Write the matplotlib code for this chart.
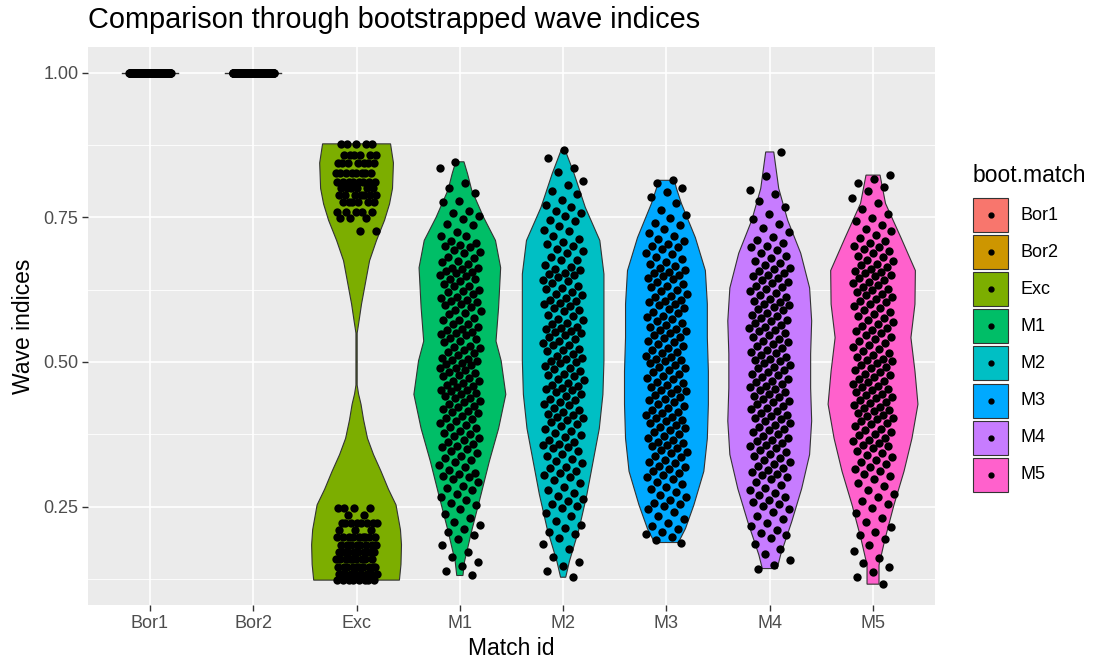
import numpy as np
import matplotlib.pyplot as plt
from matplotlib.patches import Rectangle
from matplotlib.lines import Line2D

plt.rcParams['font.family'] = ['Liberation Sans', 'DejaVu Sans']

groups = ['Bor1', 'Bor2', 'Exc', 'M1', 'M2', 'M3', 'M4', 'M5']
colors = ['#F8766D', '#CD9600', '#7CAE00', '#00BE67', '#00BFC4', '#00A9FF', '#C77CFF', '#FF61CC']
y_ticks = [0.25, 0.50, 0.75, 1.00]
y_ticklabels = ['0.25', '0.50', '0.75', '1.00']

# bootstrapped indices (Bor1/Bor2 all hit 1, Exc comes in discrete levels)
bor1_levels = [1.0]
bor1_counts = [200]
bor2_levels = [1.0]
bor2_counts = [200]
exc_levels = [0.877, 0.858, 0.844, 0.826, 0.811, 0.800, 0.788, 0.776, 0.759, 0.748, 0.727,
              0.247, 0.235, 0.222, 0.210, 0.198, 0.184, 0.172, 0.160, 0.146, 0.134, 0.123]
exc_counts = [5, 6, 7, 8, 8, 6, 7, 6, 5, 3, 2,
              4, 2, 8, 3, 9, 8, 10, 9, 10, 9, 8]

m1_vals = [0.846, 0.835, 0.809, 0.801, 0.792, 0.779, 0.776, 0.761, 0.758, 0.752,
           0.747, 0.738, 0.737, 0.724, 0.718, 0.717, 0.709, 0.705, 0.702, 0.700,
           0.699, 0.693, 0.690, 0.688, 0.681, 0.680, 0.674, 0.672, 0.669, 0.663, 0.662, 0.660,
           0.657, 0.655, 0.653, 0.651, 0.649, 0.644, 0.643, 0.640, 0.634, 0.632, 0.631, 0.625,
           0.622, 0.621, 0.617, 0.612, 0.611, 0.607, 0.606, 0.604, 0.600, 0.598, 0.595, 0.589,
           0.588, 0.584, 0.583, 0.576, 0.573, 0.572, 0.566, 0.565, 0.561, 0.557, 0.556, 0.552,
           0.550, 0.549, 0.546, 0.541, 0.540, 0.537, 0.534, 0.528, 0.526, 0.525, 0.520, 0.517,
           0.516, 0.512, 0.507, 0.505, 0.504, 0.501, 0.499, 0.497, 0.494, 0.490, 0.489, 0.486,
           0.482, 0.481, 0.478, 0.475, 0.473, 0.468, 0.467, 0.464, 0.460, 0.459, 0.457, 0.452,
           0.451, 0.449, 0.446, 0.444, 0.441, 0.438, 0.437, 0.433, 0.430, 0.428, 0.424, 0.422,
           0.419, 0.415, 0.413, 0.411, 0.406, 0.404, 0.401, 0.398, 0.395, 0.391, 0.388, 0.386,
           0.381, 0.378, 0.376, 0.372, 0.369, 0.365, 0.362, 0.358, 0.355, 0.353, 0.350, 0.347,
           0.343, 0.338, 0.334, 0.331, 0.327, 0.322, 0.318, 0.314, 0.309, 0.306, 0.303, 0.301,
           0.297, 0.292, 0.286, 0.283, 0.278, 0.271, 0.266, 0.261, 0.257, 0.252, 0.246, 0.238,
           0.231, 0.224, 0.218, 0.211, 0.206, 0.201, 0.194, 0.183, 0.172, 0.163, 0.155, 0.148,
           0.139, 0.131]
m2_vals = [0.866, 0.852, 0.836, 0.829, 0.813, 0.806, 0.795, 0.791, 0.780, 0.772, 0.768, 0.761,
           0.757, 0.753, 0.746, 0.744, 0.735, 0.728, 0.726, 0.717, 0.712, 0.708, 0.704, 0.700,
           0.696, 0.692, 0.689, 0.681, 0.677, 0.676, 0.668, 0.664, 0.661, 0.659, 0.654, 0.652,
           0.650, 0.647, 0.642, 0.640, 0.637, 0.632, 0.628, 0.626, 0.621, 0.618, 0.616, 0.610,
           0.608, 0.605, 0.602, 0.600, 0.597, 0.593, 0.590, 0.588, 0.581, 0.579, 0.574, 0.573,
           0.568, 0.566, 0.560, 0.558, 0.557, 0.554, 0.552, 0.550, 0.546, 0.544, 0.539, 0.537,
           0.533, 0.530, 0.529, 0.523, 0.520, 0.519, 0.513, 0.511, 0.507, 0.506, 0.502, 0.500,
           0.498, 0.493, 0.490, 0.488, 0.485, 0.479, 0.477, 0.476, 0.470, 0.469, 0.463, 0.461,
           0.458, 0.455, 0.454, 0.451, 0.448, 0.445, 0.442, 0.436, 0.435, 0.431, 0.427, 0.425,
           0.420, 0.417, 0.414, 0.410, 0.409, 0.405, 0.403, 0.400, 0.397, 0.392, 0.389, 0.384,
           0.381, 0.378, 0.373, 0.370, 0.366, 0.361, 0.358, 0.356, 0.353, 0.351, 0.346, 0.341,
           0.337, 0.332, 0.329, 0.325, 0.319, 0.316, 0.311, 0.308, 0.304, 0.301, 0.296, 0.291,
           0.284, 0.279, 0.274, 0.268, 0.263, 0.259, 0.255, 0.251, 0.247, 0.239, 0.233, 0.226,
           0.219, 0.213, 0.207, 0.202, 0.196, 0.185, 0.176, 0.163, 0.154, 0.147, 0.138, 0.128]
m3_vals = [0.814, 0.809, 0.801, 0.793, 0.786, 0.774, 0.763, 0.754, 0.748, 0.741, 0.737, 0.729,
           0.723, 0.718, 0.713, 0.709, 0.704, 0.701, 0.698, 0.695, 0.689, 0.686, 0.682, 0.678,
           0.673, 0.670, 0.666, 0.662, 0.659, 0.656, 0.654, 0.651, 0.649, 0.645, 0.643, 0.638,
           0.635, 0.631, 0.629, 0.624, 0.622, 0.617, 0.614, 0.612, 0.608, 0.606, 0.603, 0.601,
           0.598, 0.594, 0.592, 0.587, 0.585, 0.580, 0.577, 0.575, 0.571, 0.567, 0.564, 0.560,
           0.557, 0.555, 0.553, 0.550, 0.547, 0.543, 0.542, 0.537, 0.534, 0.531, 0.527, 0.524,
           0.521, 0.517, 0.515, 0.511, 0.508, 0.505, 0.503, 0.501, 0.499, 0.495, 0.492, 0.489,
           0.486, 0.483, 0.479, 0.476, 0.472, 0.470, 0.466, 0.463, 0.460, 0.457, 0.454, 0.451,
           0.449, 0.446, 0.443, 0.440, 0.436, 0.434, 0.430, 0.427, 0.424, 0.421, 0.417, 0.414,
           0.411, 0.408, 0.405, 0.403, 0.400, 0.398, 0.395, 0.391, 0.388, 0.386, 0.382, 0.379,
           0.376, 0.372, 0.369, 0.366, 0.362, 0.360, 0.357, 0.354, 0.351, 0.348, 0.345, 0.342,
           0.338, 0.335, 0.331, 0.328, 0.325, 0.321, 0.318, 0.315, 0.312, 0.308, 0.305, 0.302,
           0.298, 0.293, 0.289, 0.284, 0.280, 0.276, 0.270, 0.266, 0.261, 0.257, 0.254, 0.251,
           0.246, 0.240, 0.234, 0.228, 0.222, 0.216, 0.211, 0.206, 0.202, 0.197, 0.192, 0.188]
m4_vals = [0.863, 0.821, 0.798, 0.791, 0.779, 0.768, 0.756, 0.747, 0.738, 0.731, 0.724, 0.716,
           0.711, 0.705, 0.701, 0.698, 0.693, 0.688, 0.684, 0.679, 0.675, 0.671, 0.668, 0.663,
           0.660, 0.657, 0.654, 0.651, 0.648, 0.645, 0.641, 0.639, 0.636, 0.632, 0.629, 0.626,
           0.622, 0.619, 0.616, 0.612, 0.609, 0.606, 0.603, 0.601, 0.598, 0.595, 0.592, 0.589,
           0.585, 0.582, 0.579, 0.576, 0.573, 0.570, 0.567, 0.564, 0.561, 0.558, 0.555, 0.553,
           0.550, 0.547, 0.544, 0.540, 0.537, 0.534, 0.531, 0.527, 0.524, 0.521, 0.518, 0.515,
           0.512, 0.509, 0.506, 0.503, 0.501, 0.498, 0.495, 0.492, 0.489, 0.486, 0.483, 0.480,
           0.477, 0.474, 0.471, 0.468, 0.465, 0.462, 0.459, 0.456, 0.453, 0.451, 0.448, 0.445,
           0.442, 0.439, 0.436, 0.433, 0.430, 0.427, 0.424, 0.421, 0.418, 0.415, 0.412, 0.409,
           0.406, 0.403, 0.401, 0.398, 0.395, 0.391, 0.388, 0.385, 0.382, 0.379, 0.376, 0.372,
           0.369, 0.366, 0.363, 0.360, 0.357, 0.354, 0.351, 0.348, 0.344, 0.341, 0.337, 0.334,
           0.330, 0.327, 0.323, 0.320, 0.317, 0.313, 0.310, 0.307, 0.304, 0.301, 0.297, 0.292,
           0.288, 0.283, 0.279, 0.274, 0.270, 0.266, 0.262, 0.258, 0.254, 0.251, 0.246, 0.240,
           0.234, 0.228, 0.222, 0.216, 0.210, 0.205, 0.201, 0.195, 0.186, 0.177, 0.168, 0.158,
           0.149, 0.143]
m5_vals = [0.823, 0.817, 0.809, 0.802, 0.795, 0.783, 0.774, 0.765, 0.756, 0.748, 0.743, 0.736,
           0.730, 0.726, 0.719, 0.714, 0.709, 0.705, 0.701, 0.698, 0.695, 0.691, 0.688, 0.684,
           0.681, 0.677, 0.674, 0.670, 0.667, 0.664, 0.661, 0.658, 0.655, 0.653, 0.651, 0.648,
           0.645, 0.642, 0.639, 0.636, 0.633, 0.630, 0.627, 0.624, 0.621, 0.618, 0.615, 0.612,
           0.609, 0.606, 0.603, 0.601, 0.597, 0.593, 0.590, 0.586, 0.583, 0.579, 0.576, 0.572,
           0.569, 0.565, 0.562, 0.559, 0.556, 0.553, 0.550, 0.546, 0.543, 0.539, 0.536, 0.533,
           0.529, 0.526, 0.522, 0.519, 0.516, 0.512, 0.509, 0.506, 0.503, 0.501, 0.498, 0.495,
           0.492, 0.489, 0.486, 0.483, 0.480, 0.477, 0.474, 0.471, 0.468, 0.465, 0.462, 0.459,
           0.456, 0.453, 0.451, 0.448, 0.445, 0.443, 0.440, 0.437, 0.434, 0.431, 0.429, 0.426,
           0.423, 0.420, 0.417, 0.415, 0.412, 0.409, 0.406, 0.403, 0.401, 0.398, 0.395, 0.392,
           0.389, 0.385, 0.382, 0.379, 0.376, 0.373, 0.369, 0.366, 0.363, 0.360, 0.357, 0.354,
           0.351, 0.347, 0.343, 0.339, 0.335, 0.331, 0.327, 0.323, 0.319, 0.315, 0.311, 0.307,
           0.303, 0.297, 0.291, 0.285, 0.278, 0.272, 0.266, 0.260, 0.254, 0.247, 0.239, 0.231,
           0.223, 0.215, 0.207, 0.201, 0.194, 0.184, 0.173, 0.162, 0.152, 0.146, 0.137, 0.128,
           0.116]

# violin outlines: index level and half width (category units)
exc_shape_y = [0.123, 0.150, 0.184, 0.210, 0.235, 0.253, 0.280, 0.311, 0.340, 0.368, 0.400,
               0.427, 0.445, 0.460, 0.550, 0.571, 0.600, 0.628, 0.675, 0.710, 0.745, 0.773,
               0.800, 0.844, 0.877]
exc_shape_w = [0.415, 0.430, 0.435, 0.425, 0.400, 0.382, 0.309, 0.237, 0.164, 0.106, 0.068,
               0.043, 0.019, 0.006, 0.006, 0.024, 0.048, 0.077, 0.126, 0.193, 0.271, 0.319,
               0.348, 0.357, 0.329]
m1_shape_y = [0.131, 0.155, 0.212, 0.271, 0.328, 0.385, 0.444, 0.502, 0.536, 0.594, 0.663,
              0.710, 0.750, 0.797, 0.825, 0.846]
m1_shape_w = [0.030, 0.045, 0.120, 0.205, 0.285, 0.375, 0.445, 0.400, 0.350, 0.375, 0.395,
              0.345, 0.230, 0.115, 0.075, 0.040]
m2_shape_y = [0.128, 0.155, 0.212, 0.271, 0.328, 0.385, 0.444, 0.502, 0.580, 0.652, 0.710,
              0.767, 0.826, 0.866]
m2_shape_w = [0.025, 0.060, 0.155, 0.230, 0.290, 0.350, 0.385, 0.395, 0.395, 0.395, 0.355,
              0.215, 0.105, 0.020]
m3_shape_y = [0.188, 0.212, 0.253, 0.311, 0.368, 0.427, 0.484, 0.542, 0.600, 0.658, 0.715,
              0.774, 0.800, 0.814]
m3_shape_w = [0.116, 0.184, 0.266, 0.362, 0.396, 0.406, 0.406, 0.396, 0.396, 0.377, 0.280,
              0.145, 0.097, 0.077]
m4_shape_y = [0.143, 0.167, 0.224, 0.281, 0.340, 0.398, 0.455, 0.514, 0.571, 0.628, 0.688,
              0.745, 0.800, 0.863]
m4_shape_w = [0.072, 0.106, 0.213, 0.309, 0.386, 0.406, 0.396, 0.396, 0.406, 0.386, 0.300,
              0.174, 0.087, 0.039]
m5_shape_y = [0.116, 0.149, 0.194, 0.253, 0.311, 0.368, 0.427, 0.484, 0.542, 0.600, 0.658,
              0.715, 0.774, 0.823]
m5_shape_w = [0.058, 0.058, 0.116, 0.203, 0.300, 0.377, 0.435, 0.406, 0.367, 0.406, 0.410,
              0.270, 0.121, 0.068]

points = {
    'Bor1': np.repeat(bor1_levels, bor1_counts),
    'Bor2': np.repeat(bor2_levels, bor2_counts),
    'Exc': np.repeat(exc_levels, exc_counts),
    'M1': np.array(m1_vals), 'M2': np.array(m2_vals), 'M3': np.array(m3_vals),
    'M4': np.array(m4_vals), 'M5': np.array(m5_vals),
}
shapes = {
    'Exc': (exc_shape_y, exc_shape_w), 'M1': (m1_shape_y, m1_shape_w),
    'M2': (m2_shape_y, m2_shape_w), 'M3': (m3_shape_y, m3_shape_w),
    'M4': (m4_shape_y, m4_shape_w), 'M5': (m5_shape_y, m5_shape_w),
}

W, H = 1096, 667
fig = plt.figure(figsize=(W / 100, H / 100), dpi=100)
ax = fig.add_axes([88 / W, 1 - 605 / H, (935 - 88) / W, (605 - 47) / H])
ax.set_facecolor('#EBEBEB')

for i, g in enumerate(groups):
    x = i + 1
    if g in shapes:
        sy, sw = np.array(shapes[g][0]), np.array(shapes[g][1])
        px = np.concatenate([x - sw, (x + sw)[::-1]])
        py = np.concatenate([sy, sy[::-1]])
        ax.fill(px, py, facecolor=colors[i], edgecolor='#333333', lw=0.8, zorder=2)
    else:
        # all values identical -> violin collapses to a line
        ax.plot([x - 0.27, x + 0.27], [1.0, 1.0], color='#333333', lw=1.0, zorder=2)
    vals = points[g]
    # horizontal jitter, width 0.2
    k = np.arange(len(vals))
    off = 0.2 * (2 * ((k * 0.6180339887 + 0.13 * i) % 1.0) - 1)
    ax.scatter(x + off, vals, s=36, color='black', linewidths=0, zorder=3)

ax.set_xlim(0.4, 8.6)
ax.set_ylim(0.080, 1.0444)
ax.set_xticks(range(1, len(groups) + 1))
ax.set_xticklabels(groups)
ax.set_yticks(y_ticks)
ax.set_yticklabels(y_ticklabels)
ax.set_yticks([0.125, 0.375, 0.625, 0.875], minor=True)
ax.grid(which='major', color='white', lw=1.2)
ax.grid(which='minor', axis='y', color='white', lw=0.6)
ax.set_axisbelow(True)
for s in ax.spines.values():
    s.set_visible(False)
ax.tick_params(which='major', length=4, width=1, color='#333333', labelcolor='#4D4D4D',
               labelsize=13, pad=3)
ax.tick_params(which='minor', length=0)

ax.set_xlabel('Match id', fontsize=16.5, labelpad=4)
ax.set_ylabel('Wave indices', fontsize=16.5, labelpad=6)
fig.text(88 / W, 1 - 20 / H, 'Comparison through bootstrapped wave indices', fontsize=20.8,
         ha='left', va='center')

# legend
fig.text(973 / W, 1 - 175 / H, 'boot.match', fontsize=16.5, ha='left', va='center')
for i, g in enumerate(groups):
    cy = 215 + i * 37.1
    fig.add_artist(Rectangle((973 / W, 1 - (cy + 17) / H), 35 / W, 34 / H,
                             transform=fig.transFigure, facecolor=colors[i],
                             edgecolor='#333333', lw=0.8))
    fig.add_artist(Line2D([990.5 / W], [1 - cy / H], marker='o', ms=3.5, color='black',
                          transform=fig.transFigure))
    fig.text(1020 / W, 1 - cy / H, g, fontsize=13, ha='left', va='center', color='black')

fig.savefig('out.png', dpi=100)
